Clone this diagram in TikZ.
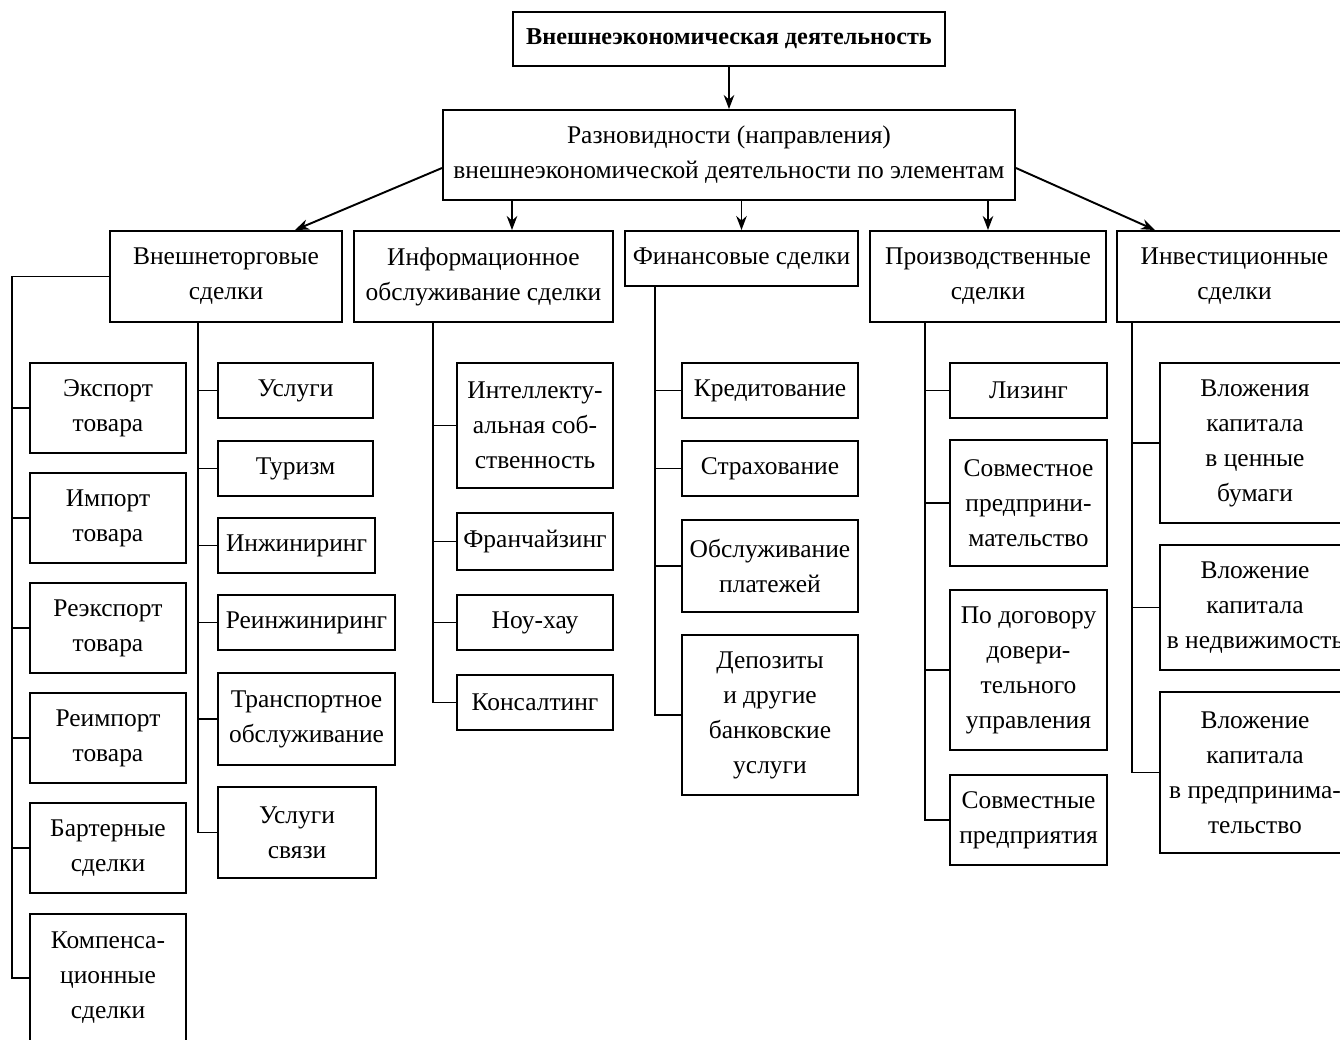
\documentclass[tikz,border=0pt]{standalone}
\usepackage{fontspec}
\setmainfont{Liberation Serif}
\usetikzlibrary{positioning,arrows.meta}

\begin{document}
\begin{tikzpicture}[x=0.02cm,y=-0.02cm,>={Stealth[length=8pt,width=6pt]},
    box/.style={draw,line width=1.1pt,align=center,inner sep=2pt,font=\fontsize{14.5}{19.9}\selectfont},
    sz/.style 2 args={minimum width=#1*0.02cm,minimum height=#2*0.02cm},
    ln/.style={line width=1pt},
    arr/.style={->,line width=1.1pt}]

\useasboundingbox (0,0) rectangle (1340,1039);

\node[box,sz={432}{54},font=\bfseries\fontsize{13.8}{19.9}\selectfont] (ved) at (729,39) {Внешнеэкономическая деятельность};
\node[box,sz={572}{90}] (vid) at (729,155) {Разновидности (направления)\\внешнеэкономической деятельности по элементам};

\node[box,sz={232}{91}] (vt) at (226,276.5) {Внешнеторговые\\сделки};
\node[box,sz={259}{91}] (info) at (483.5,276.5) {Информационное\\обслуживание сделки};
\node[box,sz={233}{55}] (fin) at (741.5,258.5) {Финансовые сделки};
\node[box,sz={236}{91}] (prod) at (988,276.5) {Производственные\\сделки};
\node[box,sz={235}{91}] (inv) at (1234.5,276.5) {Инвестиционные\\сделки};

\draw[arr] (ved) -- (vid);
\draw[arr] ([yshift=-0.26cm]vid.west) -- ([xshift=1.38cm]vt.north);
\draw[arr] (vid.south -| 512,0) -- (info.north -| 512,0);
\draw[arr] (vid.south -| fin.north) -- (fin.north);
\draw[arr] (vid.south -| prod.north) -- (prod.north);
\draw[arr] ([yshift=-0.26cm]vid.east) -- ([xshift=-1.59cm]inv.north);

\foreach \n/\y/\h/\t in {exp/408/90/{Экспорт\\товара},imp/518/90/{Импорт\\товара},
    reexp/628/90/{Реэкспорт\\товара},reimp/738/90/{Реимпорт\\товара},
    bart/848/90/{Бартерные\\сделки},komp/978/128/{Компенса-\\ционные\\сделки}}
    \node[box,sz={156}{\h}] (\n) at (108,\y) {\t};

\foreach \n/\x/\y/\w/\h/\t in {usl/295.5/390.5/155/55/{Услуги},tur/295.5/468.5/155/55/{Туризм},
    inzh/296.5/545.5/157/55/{Инжиниринг},reinzh/306.5/622.5/177/55/{Реинжиниринг},
    transp/306.5/719/177/92/{Транспортное\\обслуживание},svyaz/297/832.5/158/91/{Услуги\\связи}}
    \node[box,sz={\w}{\h}] (\n) at (\x,\y) {\t};

\foreach \n/\y/\h/\t in {intel/425.5/125/{Интеллекту-\\альная соб-\\ственность},
    franch/541.5/57/{Франчайзинг},nouhau/622.5/55/{Ноу-хау},kons/702.5/55/{Консалтинг}}
    \node[box,sz={156}{\h}] (\n) at (535,\y) {\t};

\foreach \n/\y/\h/\t in {kred/390.5/55/{Кредитование},strakh/468.5/55/{Страхование},
    plat/566/92/{Обслуживание\\платежей},depo/715/160/{Депозиты\\и другие\\банковские\\услуги}}
    \node[box,sz={176}{\h}] (\n) at (770,\y) {\t};

\foreach \n/\y/\h/\t in {lizing/390.5/55/{Лизинг},sovm/503/126/{Совместное\\предприни-\\мательство},
    dover/670/160/{По договору\\довери-\\тельного\\управления},sovmpr/820/90/{Совместные\\предприятия}}
    \node[box,sz={157}{\h}] (\n) at (1028.5,\y) {\t};

\foreach \n/\y/\h/\t in {cb/443/160/{Вложения\\капитала\\в ценные\\бумаги},
    nedv/607.5/125/{Вложение\\капитала\\в недвижимость},
    predpr/772.5/161/{Вложение\\капитала\\в предпринима-\\тельство}}
    \node[box,sz={190}{\h}] (\n) at (1255,\y) {\t};

\draw[ln] (vt.west) -| (komp.west -| 12,0) -- (komp.west);
\foreach \n in {exp,imp,reexp,reimp,bart}
    \draw[ln] (\n.west -| 12,0) -- (\n.west);

\draw[ln] (vt.south -| 198,0) |- (svyaz.west);
\foreach \n in {usl,tur,inzh,reinzh,transp}
    \draw[ln] (\n.west -| 198,0) -- (\n.west);

\draw[ln] (info.south -| 433,0) |- (kons.west);
\foreach \n in {intel,franch,nouhau}
    \draw[ln] (\n.west -| 433,0) -- (\n.west);

\draw[ln] (fin.south -| 655,0) |- (depo.west);
\foreach \n in {kred,strakh,plat}
    \draw[ln] (\n.west -| 655,0) -- (\n.west);

\draw[ln] (prod.south -| 925,0) |- (sovmpr.west);
\foreach \n in {lizing,sovm,dover}
    \draw[ln] (\n.west -| 925,0) -- (\n.west);

\draw[ln] (inv.south -| 1132,0) |- (predpr.west);
\foreach \n in {cb,nedv}
    \draw[ln] (\n.west -| 1132,0) -- (\n.west);

\end{tikzpicture}
\end{document}
